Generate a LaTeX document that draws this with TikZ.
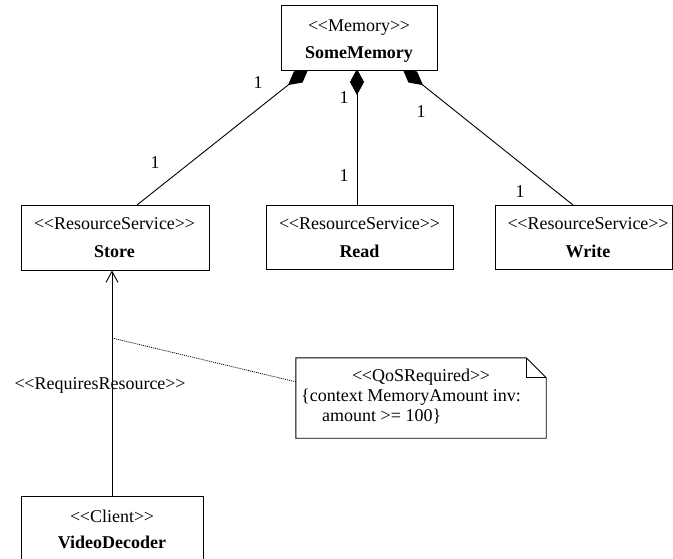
\documentclass[tikz,border=0pt]{standalone}
\usepackage{fontspec}
\setmainfont{Liberation Serif}
\usetikzlibrary{arrows.meta,calc}
\newcommand\stereo[1]{<\kern-0.02em<#1>\kern-0.02em>}
\begin{document}
\begin{tikzpicture}[x=1pt,y=-1pt,
  every node/.style={font=\fontsize{18}{20}\selectfont},
  classbox/.style={draw,line width=0.9pt,fill=white,inner sep=0pt},
  stereotxt/.style={inner sep=0pt,anchor=base},
  nametxt/.style={inner sep=0pt,anchor=base,font=\fontsize{18}{20}\selectfont\bfseries},
  mult/.style={inner sep=0pt},
  comp/.style={line width=0.9pt,-{Diamond[length=26pt,width=14pt,fill=black]}},
  dep/.style={line width=0.9pt,-{Straight Barb[length=11pt,width=12pt,line width=0.9pt]}},
  anchorline/.style={line width=0.8pt,dash pattern=on 1pt off 1pt}]
\useasboundingbox (0,0) rectangle (673,558);
\clip (0,0) rectangle (673,558);

% connector end points on the class boxes
\coordinate (sL) at (137,205);
\coordinate (tL) at (308.4,68.9);
\coordinate (sM) at (357,205);
\coordinate (tM) at (357,69);
\coordinate (sR) at (573,205);
\coordinate (tR) at (402.6,68.9);

% composition links (drawn first, the whole part covers the diamond tips)
\draw[comp] (sL) -- (tL);
\draw[comp] (sM) -- (tM);
\draw[comp] (sR) -- (tR);

% classes
\node[classbox,minimum width=156pt,minimum height=65pt] (mem) at (359,37.5) {};
\node[stereotxt] (memS) at (359,31) {\stereo{Memory}};
\node[nametxt] (memN) at (359,58) {SomeMemory};

\node[classbox,minimum width=188pt,minimum height=65pt] (store) at (115,237.5) {};
\node[stereotxt] (storeS) at (114.5,229) {\stereo{ResourceService}};
\node[nametxt] (storeN) at (114.5,257) {Store};

\node[classbox,minimum width=187pt,minimum height=64pt] (read) at (359.5,237) {};
\node[stereotxt] (readS) at (359.5,229) {\stereo{ResourceService}};
\node[nametxt] (readN) at (359.5,257) {Read};

\node[classbox,minimum width=177pt,minimum height=64pt] (write) at (583.5,237) {};
\node[stereotxt] (writeS) at (588,229) {\stereo{ResourceService}};
\node[nametxt] (writeN) at (588,257) {Write};

\node[classbox,minimum width=182pt,minimum height=120pt] (vd) at (112,556) {};
\node[stereotxt] (vdS) at (112,522) {\stereo{Client}};
\node[nametxt] (vdN) at (112,548) {VideoDecoder};

% multiplicities
\node[mult] (m1) at (258,83) {1};
\node[mult] (m2) at (155,163) {1};
\node[mult] (m3) at (344,98) {1};
\node[mult] (m4) at (344,176) {1};
\node[mult] (m5) at (421,112) {1};
\node[mult] (m6) at (520,192) {1};

% dependency from the client to the service
\draw[dep] (vd.north) -- (vd.north |- store.south);
\node[stereotxt] (req) at (100,389) {\stereo{RequiresResource}};

% constraint note
\node[inner sep=0pt,minimum width=250pt,minimum height=80pt] (note) at (421,398) {};
\draw[line width=0.9pt,fill=white] (note.north west) -- ($(note.north east)+(-20,0)$)
  -- ($(note.north east)+(0,20)$) -- (note.south east) -- (note.south west) -- cycle;
\draw[line width=0.9pt] ($(note.north east)+(-20,0)$) -- ($(note.north east)+(-20,20)$)
  -- ($(note.north east)+(0,20)$);
\node[stereotxt] (noteS) at (421,381.5) {\stereo{QoSRequired}};
\node[inner sep=0pt,anchor=base west] (noteA) at (301,401.5) {\{context MemoryAmount inv:};
\node[inner sep=0pt,anchor=base west] (noteB) at (322,421.5) {amount >= 100\}};

\coordinate (dp) at (112,338);
\draw[anchorline] (dp) -- ($(note.north west)+(0,24)$);
\end{tikzpicture}
\end{document}
